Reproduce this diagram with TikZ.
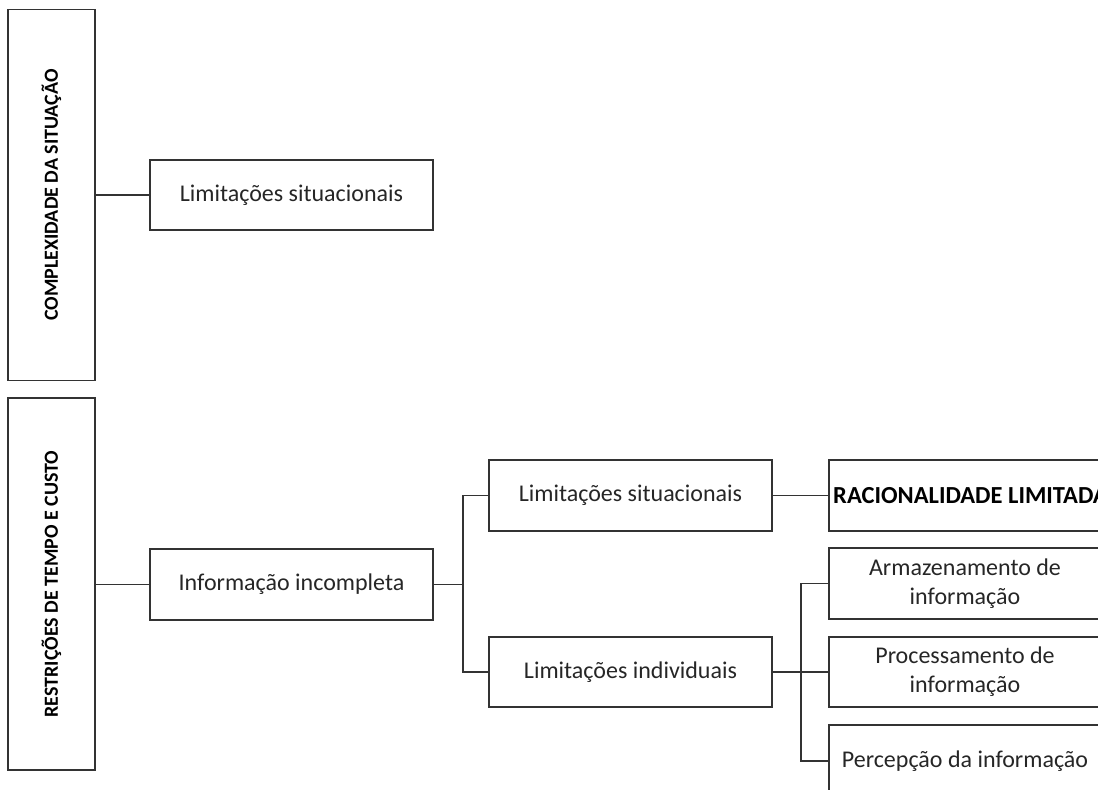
\documentclass[tikz,border=0pt]{standalone}
\usepackage{fontspec}
\setmainfont{Carlito}
\begin{document}
\begin{tikzpicture}[x=1pt,y=-1pt,
  box/.style={draw=black!80, line width=1.5pt, rectangle, inner sep=0pt, align=center, text=black!85,
     font=\fontsize{24}{29}\selectfont},
  side/.style={box, minimum width=87pt},
  vlabel/.style={rotate=90, font=\bfseries\fontsize{20}{22}\selectfont, text=black},
  conn/.style={draw=black!80, line width=1.5pt}]
\useasboundingbox (0,0) rectangle (1098,790);
\clip (0,0) rectangle (1098,790);
\node[side, minimum height=371pt] (cx) at (51.5,195) {};
\node[vlabel] (cxt) at (51.5,195) {COMPLEXIDADE DA SITUAÇÃO};
\node[side, minimum height=372pt] (rt) at (51.5,584) {};
\node[vlabel] (rtt) at (51.5,584) {RESTRIÇÕES DE TEMPO E CUSTO};
\node[box, minimum width=283pt, minimum height=70pt] (ls1) at (291.5,195) {Limitações situacionais};
\node[box, minimum width=283pt, minimum height=71pt] (ii) at (291.5,584.5) {Informação incompleta};
\node[box, minimum width=283pt, minimum height=71pt] (ls2) at (630.5,495.5) {Limitações situacionais};
\node[box, minimum width=283pt, minimum height=70pt] (li) at (630.5,672) {Limitações individuais};
\node[box, minimum width=272pt, minimum height=71pt] (rl) at (965,495.5) {};
\node[anchor=west, inner sep=0pt, font=\bfseries\fontsize{24.5}{26}\selectfont, text=black] (rlt) at (833,495.5) {RACIONALIDADE LIMITADA};
\node[box, minimum width=272pt, minimum height=71pt] (ar) at (965,583.5) {Armazenamento de\\informação};
\node[box, minimum width=272pt, minimum height=70pt] (pr) at (965,672) {Processamento de\\informação};
\node[box, minimum width=272pt, minimum height=72pt] (pe) at (965,761) {Percepção da informação};
\draw[conn] (cx.east) -- (ls1.west);
\draw[conn] (rt.east |- ii.west) -- (ii.west);
\draw[conn] (ii.east) -- ++(29,0) coordinate (b1);
\draw[conn] (b1) |- (ls2.west);
\draw[conn] (b1) |- (li.west);
\draw[conn] (ls2.east) -- (rl.west);
\draw[conn] (li.east) -- ++(28,0) coordinate (b2);
\draw[conn] (b2) |- (ar.west);
\draw[conn] (b2) |- (pr.west);
\draw[conn] (b2) |- (pe.west);
\end{tikzpicture}
\end{document}
